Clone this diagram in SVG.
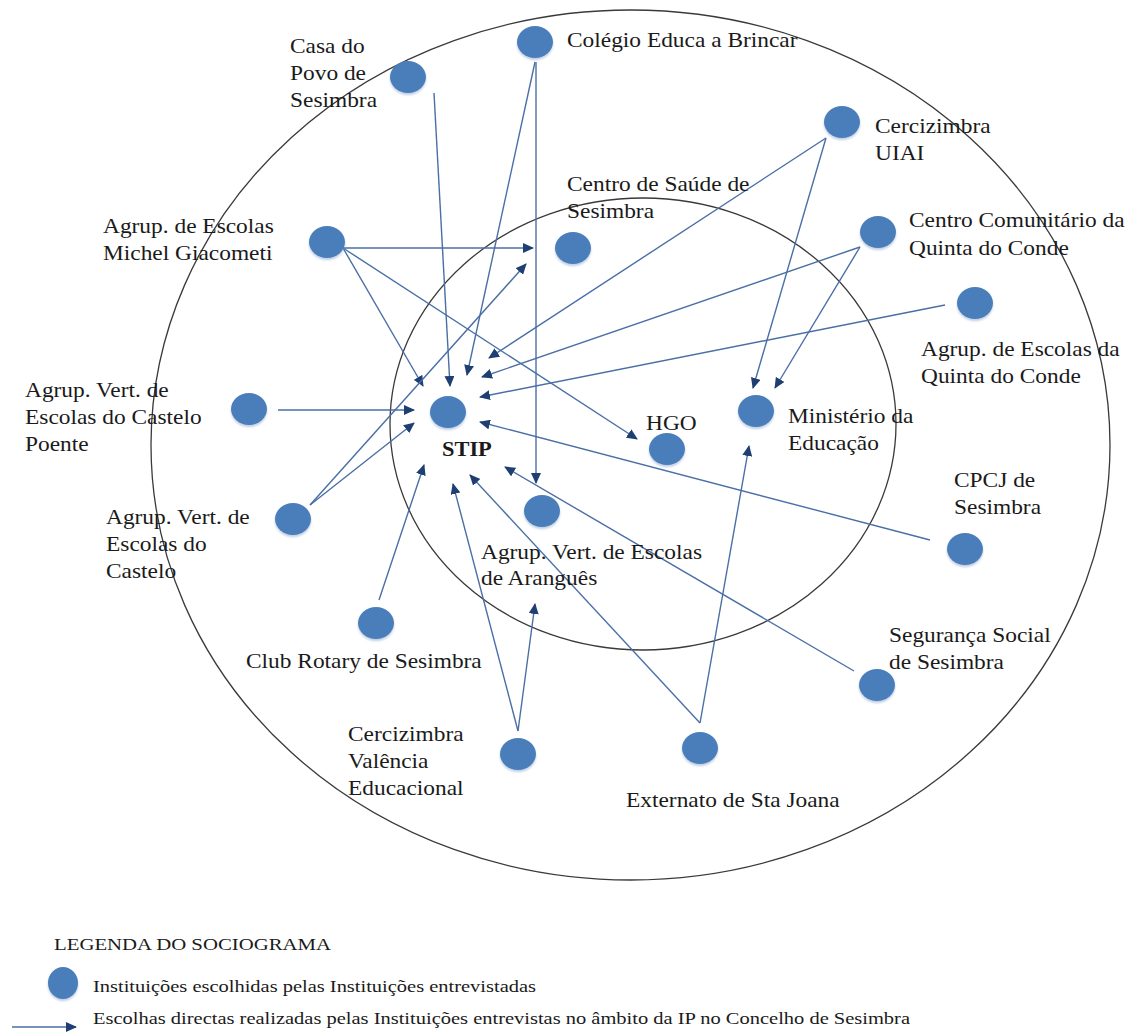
<svg xmlns="http://www.w3.org/2000/svg" width="1127" height="1034" viewBox="0 0 1127 1034">
<style>
.ring{fill:none;stroke:#3a3a3a;stroke-width:1.3}
.node ellipse{fill:#4A7EBB;filter:url(#sh)}
.lbl{font-family:"Liberation Serif","Times New Roman",serif;font-size:20px;fill:#1a1a1a}
.bold{font-weight:bold}
.leg{font-family:"Liberation Serif","Times New Roman",serif;font-size:17px;fill:#1a1a1a}
#edges line{stroke:#4A6FA5;stroke-width:1.4;marker-end:url(#ah)}
</style>
<defs>
<marker id="ah" markerUnits="userSpaceOnUse" markerWidth="11" markerHeight="10" refX="10" refY="5" orient="auto">
<path d="M0,0 L11,5 L0,10 z" fill="#1F3F73"/>
</marker>
<filter id="sh" x="-30%" y="-30%" width="160%" height="170%">
<feDropShadow dx="0" dy="2" stdDeviation="1.3" flood-color="#7f9cc8" flood-opacity="0.5"/>
</filter>
</defs>
<rect width="1127" height="1034" fill="#fff"/>
<ellipse class="ring" cx="630.5" cy="445" rx="479.5" ry="435"/>
<ellipse class="ring" cx="643" cy="424" rx="253" ry="226"/>

<g id="edges">
<line x1="434" y1="93" x2="450" y2="386"/>
<line x1="535" y1="62" x2="467" y2="375"/>
<line x1="536" y1="62" x2="536" y2="483"/>
<line x1="826" y1="138" x2="489" y2="358"/>
<line x1="826" y1="138" x2="753" y2="388"/>
<line x1="343" y1="248" x2="533" y2="248"/>
<line x1="343" y1="248" x2="423" y2="386"/>
<line x1="343" y1="248" x2="637" y2="439"/>
<line x1="860" y1="247" x2="482" y2="377"/>
<line x1="860" y1="247" x2="775" y2="388"/>
<line x1="945" y1="305" x2="480" y2="397"/>
<line x1="278" y1="410" x2="414" y2="410"/>
<line x1="310" y1="505" x2="414" y2="423"/>
<line x1="310" y1="505" x2="526" y2="264"/>
<line x1="379" y1="600" x2="424" y2="465"/>
<line x1="518" y1="731" x2="453" y2="484"/>
<line x1="518" y1="731" x2="535" y2="604"/>
<line x1="700" y1="723" x2="470" y2="475"/>
<line x1="700" y1="723" x2="749" y2="446"/>
<line x1="854" y1="671" x2="505" y2="467"/>
<line x1="930" y1="540" x2="480" y2="422"/>
</g>

<g id="stip" class="node"><ellipse cx="448" cy="412" rx="18" ry="16"/><text class="lbl bold" transform="translate(442 456) scale(1.12 1)">STIP</text></g>
<g id="casa-do-povo" class="node"><ellipse cx="408" cy="77" rx="18" ry="16"/><text class="lbl" transform="translate(290 53) scale(1.17 1)"><tspan x="0">Casa do</tspan><tspan x="0" dy="27">Povo de</tspan><tspan x="0" dy="27">Sesimbra</tspan></text></g>
<g id="colegio" class="node"><ellipse cx="535" cy="42" rx="18" ry="16"/><text class="lbl" transform="translate(567 47) scale(1.17 1)">Colégio Educa a Brincar</text></g>
<g id="cercizimbra-uiai" class="node"><ellipse cx="842" cy="122" rx="18" ry="16"/><text class="lbl" transform="translate(875 133) scale(1.17 1)"><tspan x="0">Cercizimbra</tspan><tspan x="0" dy="27">UIAI</tspan></text></g>
<g id="centro-saude" class="node"><ellipse cx="573" cy="248" rx="18" ry="16"/><text class="lbl" transform="translate(567 191) scale(1.17 1)"><tspan x="0">Centro de Saúde de</tspan><tspan x="0" dy="27">Sesimbra</tspan></text></g>
<g id="michel-giacometi" class="node"><ellipse cx="327" cy="242" rx="18" ry="16"/><text class="lbl" transform="translate(103 233) scale(1.17 1)"><tspan x="0">Agrup. de Escolas</tspan><tspan x="0" dy="27">Michel Giacometi</tspan></text></g>
<g id="centro-comunitario" class="node"><ellipse cx="878" cy="232" rx="18" ry="16"/><text class="lbl" transform="translate(909 227) scale(1.17 1)"><tspan x="0">Centro Comunitário da</tspan><tspan x="0" dy="28">Quinta do Conde</tspan></text></g>
<g id="agrup-quinta-conde" class="node"><ellipse cx="975" cy="303" rx="18" ry="16"/><text class="lbl" transform="translate(921 356) scale(1.17 1)"><tspan x="0">Agrup. de Escolas da</tspan><tspan x="0" dy="27">Quinta do Conde</tspan></text></g>
<g id="castelo-poente" class="node"><ellipse cx="249" cy="409" rx="18" ry="16"/><text class="lbl" transform="translate(25 397) scale(1.17 1)"><tspan x="0">Agrup. Vert. de</tspan><tspan x="0" dy="27">Escolas do Castelo</tspan><tspan x="0" dy="27">Poente</tspan></text></g>
<g id="castelo" class="node"><ellipse cx="293" cy="519" rx="18" ry="16"/><text class="lbl" transform="translate(106 524) scale(1.17 1)"><tspan x="0">Agrup. Vert. de</tspan><tspan x="0" dy="27">Escolas do</tspan><tspan x="0" dy="27">Castelo</tspan></text></g>
<g id="club-rotary" class="node"><ellipse cx="376" cy="623" rx="18" ry="16"/><text class="lbl" transform="translate(246 668) scale(1.17 1)">Club Rotary de Sesimbra</text></g>
<g id="valencia-educacional" class="node"><ellipse cx="518" cy="754" rx="18" ry="16"/><text class="lbl" transform="translate(348 741) scale(1.17 1)"><tspan x="0">Cercizimbra</tspan><tspan x="0" dy="27">Valência</tspan><tspan x="0" dy="27">Educacional</tspan></text></g>
<g id="externato" class="node"><ellipse cx="700" cy="748" rx="18" ry="16"/><text class="lbl" transform="translate(626 807) scale(1.17 1)">Externato de Sta Joana</text></g>
<g id="seguranca-social" class="node"><ellipse cx="877" cy="685" rx="18" ry="16"/><text class="lbl" transform="translate(889 642) scale(1.17 1)"><tspan x="0">Segurança Social</tspan><tspan x="0" dy="27">de Sesimbra</tspan></text></g>
<g id="cpcj" class="node"><ellipse cx="965" cy="549" rx="18" ry="16"/><text class="lbl" transform="translate(954 487) scale(1.17 1)"><tspan x="0">CPCJ de</tspan><tspan x="0" dy="27">Sesimbra</tspan></text></g>
<g id="hgo" class="node"><ellipse cx="667" cy="449" rx="18" ry="16"/><text class="lbl" transform="translate(646 430) scale(1.17 1)">HGO</text></g>
<g id="ministerio" class="node"><ellipse cx="756" cy="411" rx="18" ry="16"/><text class="lbl" transform="translate(788 423) scale(1.17 1)"><tspan x="0">Ministério da</tspan><tspan x="0" dy="27">Educação</tspan></text></g>
<g id="arangues" class="node"><ellipse cx="542" cy="511" rx="18" ry="16"/><text class="lbl" transform="translate(481 559) scale(1.17 1)"><tspan x="0">Agrup. Vert. de Escolas</tspan><tspan x="0" dy="26">de Aranguês</tspan></text></g>

<g id="legend">
<text class="leg" x="54" y="950" textLength="277" lengthAdjust="spacingAndGlyphs">LEGENDA DO SOCIOGRAMA</text>
<g class="node"><ellipse cx="63" cy="983" rx="15" ry="16"/></g>
<text class="leg" x="93" y="992" textLength="443" lengthAdjust="spacingAndGlyphs">Instituições escolhidas pelas Instituições entrevistadas</text>
<line x1="12" y1="1027" x2="76" y2="1027" stroke="#4A6FA5" stroke-width="1.6" marker-end="url(#ah)"/>
<text class="leg" x="93" y="1024" textLength="817" lengthAdjust="spacingAndGlyphs">Escolhas directas realizadas pelas Instituições entrevistas no âmbito da IP no Concelho de Sesimbra</text>
</g>
</svg>
